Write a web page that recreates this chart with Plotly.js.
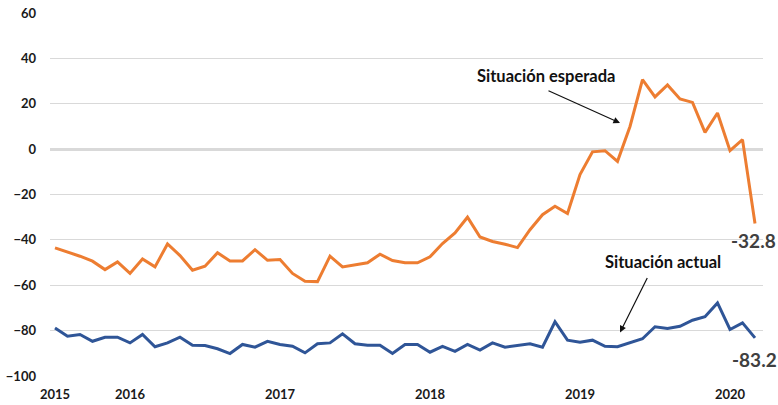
<!DOCTYPE html>
<html>
<head>
<meta charset="utf-8">
<script src="https://cdn.plot.ly/plotly-3.0.1.min.js"></script>
<style>
    html, body { margin: 0; padding: 0; background: white; }
    #chart { width: 778px; height: 405px; }
</style>
</head>
<body>
<div id="chart"></div>
<script>
// monthly categories, Jul 2015 to Mar 2020
const months = [
    '2015-07', '2015-08', '2015-09', '2015-10', '2015-11', '2015-12',
    '2016-01', '2016-02', '2016-03', '2016-04', '2016-05', '2016-06', '2016-07', '2016-08', '2016-09', '2016-10', '2016-11', '2016-12',
    '2017-01', '2017-02', '2017-03', '2017-04', '2017-05', '2017-06', '2017-07', '2017-08', '2017-09', '2017-10', '2017-11', '2017-12',
    '2018-01', '2018-02', '2018-03', '2018-04', '2018-05', '2018-06', '2018-07', '2018-08', '2018-09', '2018-10', '2018-11', '2018-12',
    '2019-01', '2019-02', '2019-03', '2019-04', '2019-05', '2019-06', '2019-07', '2019-08', '2019-09', '2019-10', '2019-11', '2019-12',
    '2020-01', '2020-02', '2020-03',
]

const esperada = [
    -43.5, -45.3, -47.2, -49.4, -53.1, -49.7,
    -54.8, -48.4, -51.9, -41.8, -46.9, -53.4, -51.6, -45.7, -49.3, -49.3, -44.3, -49.0,
    -48.7, -54.8, -58.2, -58.4, -47.2, -51.9, -51.0, -50.1, -46.3, -49.1, -50.1, -50.1,
    -47.5, -41.6, -36.9, -30.0, -38.7, -40.7, -41.9, -43.4, -35.5, -28.9, -25.2, -28.4,
    -11.2, -1.2, -0.7, -5.4, 10.0, 30.6, 23.0, 28.3, 22.1, 20.6, 7.4, 15.9,
    -0.7, 4.2, -32.8,
]

const actual = [
    -78.8, -82.5, -81.7, -84.7, -82.9, -82.9,
    -85.4, -81.7, -87.1, -85.4, -82.9, -86.4, -86.6, -88.0, -90.1, -86.1, -87.3, -84.7,
    -86.1, -86.9, -89.8, -85.8, -85.4, -81.4, -85.8, -86.4, -86.4, -90.1, -86.1, -86.1,
    -89.5, -86.9, -89.1, -86.1, -88.6, -85.4, -87.3, -86.4, -85.8, -87.3, -76.1, -84.2,
    -85.1, -84.2, -86.9, -87.1, -85.4, -83.6, -78.3, -79.1, -78.1, -75.4, -73.9, -67.8,
    -79.5, -76.6, -83.2,
]

const yearTicks = ['2015-07', '2016-01', '2017-01', '2018-01', '2019-01', '2020-01']
const yearLabels = ['2015', '2016', '2017', '2018', '2019', '2020']

const fontFamily = 'Lato, "Open Sans", sans-serif'
const last = months.length - 1

const traceEsperada = {
    x: months,
    y: esperada,
    type: 'scatter',
    mode: 'lines',
    line: { color: '#ed7d31', width: 3 },
    name: 'Situación esperada',
    hoverinfo: 'skip',
}

const traceActual = {
    x: months,
    y: actual,
    type: 'scatter',
    mode: 'lines',
    line: { color: '#2f5597', width: 3 },
    name: 'Situación actual',
    hoverinfo: 'skip',
}

const layout = {
    width: 778,
    height: 405,
    margin: { l: 50, r: 15, t: 13, b: 29 },
    paper_bgcolor: 'white',
    plot_bgcolor: 'white',
    showlegend: false,
    font: { family: fontFamily, color: '#1a1a1a' },
    xaxis: {
        type: 'category',
        range: [-0.4, last + 0.64],
        tickvals: yearTicks,
        ticktext: yearLabels,
        showgrid: false,
        zeroline: false,
        showline: false,
        ticks: '',
        ticklabelstandoff: 9,
        tickfont: { size: 13, weight: 700, color: '#1a1a1a' },
        fixedrange: true,
    },
    yaxis: {
        range: [-100, 60],
        tickvals: [-100, -80, -60, -40, -20, 0, 20, 40, 60],
        showgrid: true,
        gridcolor: '#d9d9d9',
        gridwidth: 1,
        zeroline: true,
        zerolinecolor: '#d9d9d9',
        zerolinewidth: 3,
        showline: false,
        ticks: '',
        ticklabelstandoff: 13,
        tickfont: { size: 13, weight: 700, color: '#1a1a1a' },
        fixedrange: true,
    },
    annotations: [
        {
            x: 39.3, y: 32.4, xref: 'x', yref: 'y',
            text: 'Situación esperada', showarrow: false,
            font: { size: 16.5, weight: 700, color: '#111' },
        },
        {
            x: 45.2, y: 11.5, xref: 'x', yref: 'y',
            ax: -73, ay: -33, text: '',
            showarrow: true, arrowhead: 2, arrowsize: 1.1, arrowwidth: 1.2, arrowcolor: '#111', standoff: 0,
        },
        {
            x: 48.6, y: -49.9, xref: 'x', yref: 'y',
            text: 'Situación actual', showarrow: false,
            font: { size: 16.5, weight: 700, color: '#111' },
        },
        {
            x: 45.2, y: -80.8, xref: 'x', yref: 'y',
            ax: 28, ay: -56, text: '',
            showarrow: true, arrowhead: 2, arrowsize: 1.1, arrowwidth: 1.2, arrowcolor: '#111', standoff: 0,
        },
        {
            x: last, y: esperada[last], xref: 'x', yref: 'y',
            text: String(esperada[last]), showarrow: false,
            xshift: -2, yshift: -17,
            font: { size: 19, weight: 700, color: '#404040' },
        },
        {
            x: last, y: actual[last], xref: 'x', yref: 'y',
            text: String(actual[last]), showarrow: false,
            xshift: -1, yshift: -22,
            font: { size: 19, weight: 700, color: '#404040' },
        },
    ],
}

Plotly.newPlot('chart', [traceEsperada, traceActual], layout, { staticPlot: true, displayModeBar: false })
</script>
</body>
</html>
